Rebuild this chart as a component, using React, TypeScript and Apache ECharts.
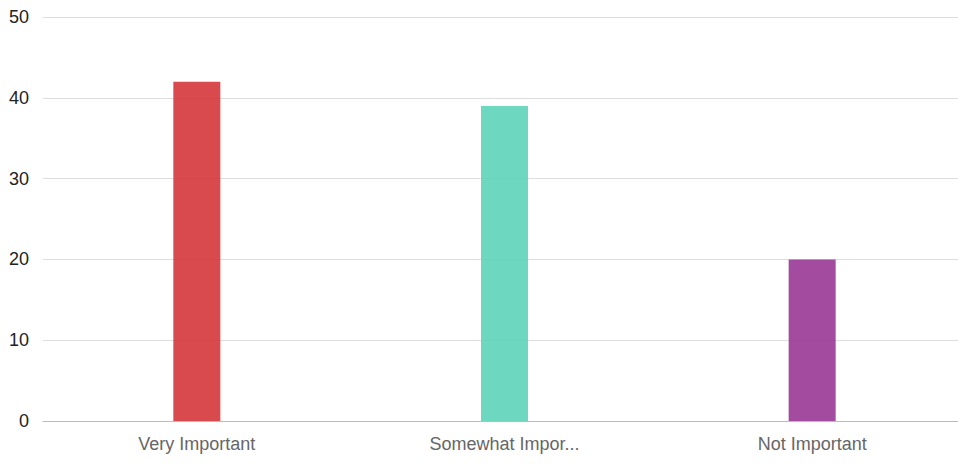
import React, { useEffect, useRef } from "react";
import * as echarts from "echarts";

const categories = ["Very Important", "Somewhat Important", "Not Important"];
const values = [42, 39, 20];
const barColors = ["#d4363a", "#5dd4b8", "#993995"];

export default function App() {
  const ref = useRef<HTMLDivElement>(null);
  useEffect(() => {
    document.body.style.margin = "0";
    document.body.style.overflow = "hidden";
    const chart = echarts.init(ref.current!, null, { renderer: "svg" });
    chart.setOption({
      animation: false,
      grid: { left: 43, right: 0, top: 17, bottom: 43 },
      xAxis: {
        type: "category",
        data: categories,
        axisLine: { lineStyle: { color: "#bbbbbb" } },
        axisTick: { alignWithLabel: true, length: 5, lineStyle: { color: "#888888" } },
        axisLabel: {
          color: "#666666",
          fontSize: 18,
          fontFamily: "Liberation Sans, Arial, sans-serif",
          margin: 14,
          formatter: (v: string) => (v.length > 16 ? v.slice(0, 14) + "..." : v),
        },
      },
      yAxis: {
        type: "value",
        min: 0,
        max: 50,
        interval: 10,
        axisLine: { show: false },
        axisTick: { show: false },
        axisLabel: {
          color: "#222222",
          fontSize: 18,
          fontFamily: "Liberation Sans, Arial, sans-serif",
          margin: 14,
        },
        splitLine: { lineStyle: { color: "#dddddd", width: 1 } },
      },
      series: [
        {
          type: "bar",
          barWidth: 47,
          data: values.map((v, i) => ({
            value: v,
            itemStyle: { color: barColors[i], opacity: 0.9 },
          })),
        },
      ],
    });
    return () => chart.dispose();
  }, []);
  return (
    <div style={{ width: 958, height: 464, overflow: "hidden", position: "relative" }}>
      <div ref={ref} style={{ width: 966, height: 464, position: "absolute", left: 0, top: 0 }} />
    </div>
  );
}
